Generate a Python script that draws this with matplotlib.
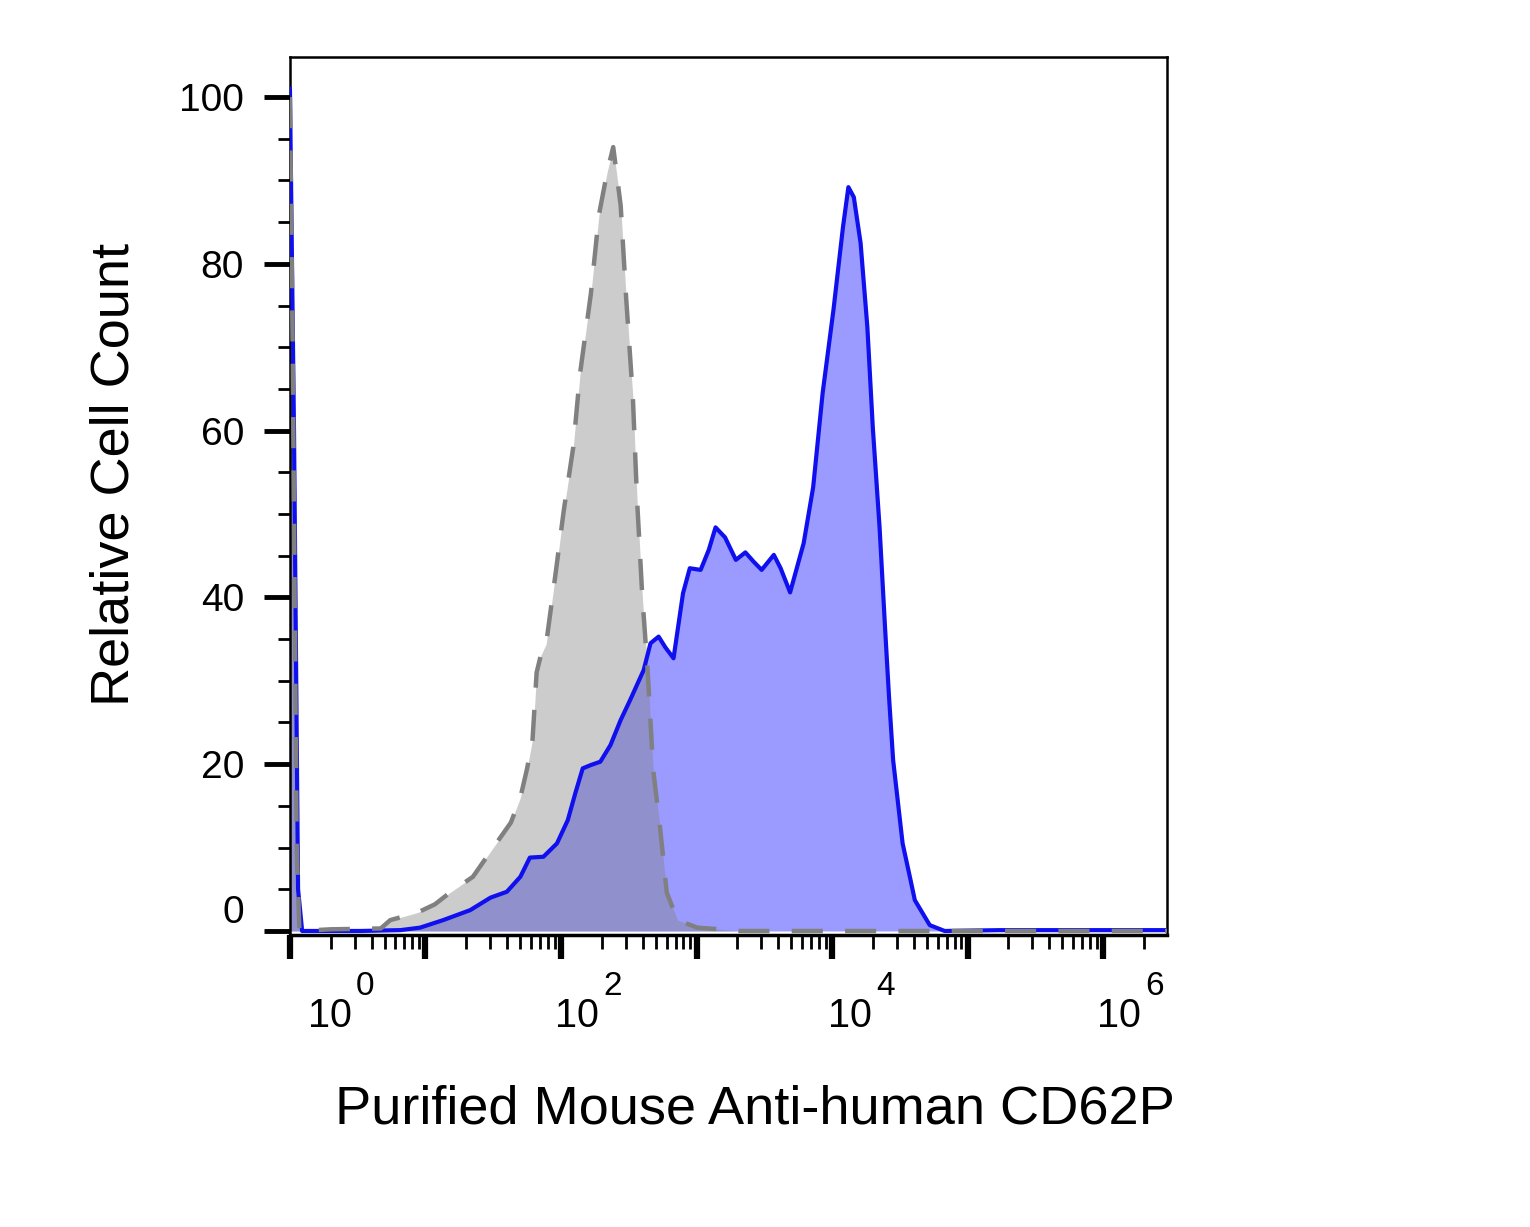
import numpy as np
import matplotlib
matplotlib.use("Agg")
import matplotlib.pyplot as plt
from matplotlib import transforms
from matplotlib.ticker import LogLocator, NullFormatter, MultipleLocator

plt.rcParams['font.family'] = ['Liberation Sans', 'DejaVu Sans']

blue_log = [0.0, 0.03, 0.06, 0.09, 0.52, 0.815, 0.96, 1.13, 1.33, 1.48, 1.60, 1.70,
            1.77, 1.87, 1.97, 2.05, 2.105, 2.16, 2.22, 2.29, 2.365, 2.44, 2.51, 2.61,
            2.66, 2.72, 2.77, 2.83, 2.90, 2.95, 3.03, 3.09, 3.14, 3.21, 3.29, 3.36,
            3.42, 3.48, 3.57, 3.62, 3.69, 3.79, 3.86, 3.93, 4.01, 4.08, 4.12, 4.16,
            4.21, 4.26, 4.30, 4.35, 4.39, 4.42, 4.45, 4.52, 4.58, 4.61, 4.72, 4.83,
            5.24, 6.47]
blue_count = [101, 60, 5, 0, 0, 0.1, 0.4, 1.3, 2.5, 4.0, 4.7, 6.5,
              8.8, 8.9, 10.5, 13.3, 16.5, 19.5, 19.9, 20.3, 22.3, 25.3, 27.7, 31.3,
              34.5, 35.3, 34.0, 32.7, 40.5, 43.5, 43.3, 45.7, 48.4, 47.2, 44.5, 45.4,
              44.3, 43.3, 45.1, 43.5, 40.6, 46.5, 53.2, 64.5, 74.5, 84.4, 89.2, 88.0,
              82.5, 72.4, 60.4, 48.4, 36.5, 28.0, 20.5, 10.5, 6.0, 3.7, 0.7, 0,
              0.1, 0.1]

gray_log = [0.0, 0.02, 0.05, 0.07, 0.30, 0.67, 0.74, 0.94, 1.07, 1.18, 1.35, 1.50,
            1.63, 1.70, 1.75, 1.79, 1.82, 1.85, 1.89, 1.965, 2.02, 2.09, 2.14, 2.22,
            2.28, 2.34, 2.385, 2.44, 2.48, 2.53, 2.56, 2.60, 2.64, 2.68, 2.73, 2.78,
            2.86, 3.005, 3.175, 3.32, 6.47]
gray_count = [100, 70, 10, 0, 0.2, 0.3, 1.3, 2.2, 3.2, 4.6, 6.5, 10.0,
              13.0, 16.0, 19.5, 23.0, 31.0, 33.0, 34.4, 43.5, 50.4, 58.0, 66.8, 76.4,
              85.9, 91.0, 94.0, 87.0, 76.0, 64.0, 52.0, 40.0, 31.0, 19.3, 12.5, 4.6,
              1.3, 0.4, 0.2, 0, 0]

xtick_exp = [0, 2, 4, 6]
xlabel_log = [0.13, 1.958, 3.97, 5.955]

blue_x = 10 ** np.array(blue_log)
gray_x = 10 ** np.array(gray_log)

fig = plt.figure(figsize=(15.3, 12.27), dpi=100)
ax = fig.add_axes([0.1895, 0.238, 0.5732, 0.7155])

ax.fill_between(blue_x, blue_count, 0, color='#9b9bff', linewidth=0, zorder=1)
ax.fill_between(gray_x, gray_count, 0, color='#808080', alpha=0.4, linewidth=0, zorder=2)
ax.plot(blue_x, blue_count, color='#1010ee', linewidth=3.0, zorder=3,
        solid_joinstyle='round')
ax.plot(gray_x, gray_count, color='#808080', linewidth=3.2, dashes=(7, 5), zorder=4)

ax.set_xscale('log')
ax.set_xlim(1, 10 ** 6.47)
ax.set_ylim(-0.48, 104.8)

# ejes y ticks
for s in ax.spines.values():
    s.set_linewidth(1.8)
ax.spines['bottom'].set_linewidth(2.5)

ax.set_yticks([0, 20, 40, 60, 80, 100])
ax.yaxis.set_minor_locator(MultipleLocator(5))
ax.tick_params(axis='y', which='major', length=19, width=3.5, labelsize=28, pad=14)
ax.tick_params(axis='y', which='minor', length=9, width=2)

ax.xaxis.set_major_locator(LogLocator(base=10, numticks=20))
ax.xaxis.set_minor_locator(LogLocator(base=10, subs=np.arange(2, 10), numticks=20))
ax.xaxis.set_major_formatter(NullFormatter())
ax.xaxis.set_minor_formatter(NullFormatter())
ax.tick_params(axis='x', which='major', length=17, width=4.5)
ax.tick_params(axis='x', which='minor', length=10, width=2)

# etiquetas 10^n
trans = transforms.blended_transform_factory(ax.transData, fig.transFigure)
sup_trans = transforms.offset_copy(trans, fig=fig, x=34.5, y=0, units='points')
for e, pos in zip(xtick_exp, xlabel_log):
    ax.text(10 ** pos, 0.163, '10', transform=trans, fontsize=28.5,
            ha='left', va='baseline', clip_on=False)
    ax.text(10 ** pos, 0.189, str(e), transform=sup_trans, fontsize=24,
            ha='left', va='baseline', clip_on=False)

fig.text(0.075, 0.613, 'Relative Cell Count', rotation=90, fontsize=39,
         ha='center', va='center')
fig.text(0.4935, 0.0954, 'Purified Mouse Anti-human CD62P', fontsize=39,
         ha='center', va='center')

# el "0" va un poco mas arriba
fig.canvas.draw()
for t in ax.yaxis.get_major_ticks():
    if t.get_loc() == 0:
        t.label1.set_va('bottom')

fig.savefig('out.png', dpi=100)
